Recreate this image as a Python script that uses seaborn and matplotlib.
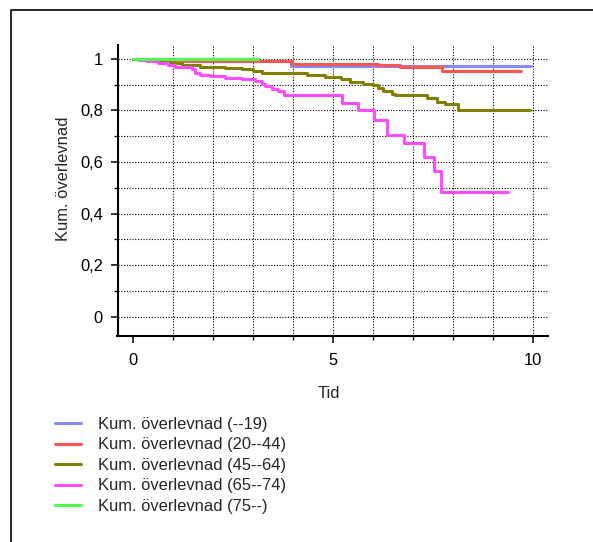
import matplotlib
matplotlib.use("Agg")
import matplotlib.pyplot as plt
from matplotlib.lines import Line2D
from matplotlib.ticker import FixedLocator, FixedFormatter
import numpy as np
import pandas as pd
import seaborn as sns

# Kaplan-Meier style step curves per age group
groups = ["Kum. överlevnad (--19)", "Kum. överlevnad (20--44)", "Kum. överlevnad (45--64)",
          "Kum. överlevnad (65--74)", "Kum. överlevnad (75--)"]

t_19 = [0, 0.45, 3.95, 9.95]
s_19 = [1, 0.99, 0.971, 0.971]

t_20_44 = [0, 0.3, 1.2, 3.97, 6.13, 6.68, 7.72, 9.7]
s_20_44 = [1, 0.996, 0.99, 0.982, 0.975, 0.967, 0.955, 0.955]

t_45_64 = [0, 0.35, 0.9, 1.22, 1.68, 2.3, 2.72, 3.0, 3.22, 4.35, 4.8, 5.2, 5.43, 5.76,
           6.0, 6.13, 6.26, 6.47, 6.56, 7.35, 7.6, 7.8, 8.14, 9.93]
s_45_64 = [1, 0.992, 0.985, 0.976, 0.969, 0.965, 0.960, 0.953, 0.947, 0.939, 0.930, 0.924,
           0.911, 0.904, 0.898, 0.889, 0.876, 0.865, 0.859, 0.850, 0.833, 0.824, 0.801, 0.801]

t_65_74 = [0, 0.15, 0.38, 0.63, 0.88, 1.06, 1.47, 1.56, 1.68, 1.93, 2.3, 2.72, 3.06, 3.22,
           3.31, 3.47, 3.63, 3.77, 5.22, 5.64, 6.02, 6.35, 6.78, 7.27, 7.54, 7.70, 9.39]
s_65_74 = [1, 0.995, 0.99, 0.985, 0.976, 0.969, 0.960, 0.947, 0.937, 0.933, 0.926, 0.921,
           0.915, 0.902, 0.895, 0.885, 0.875, 0.859, 0.828, 0.80, 0.763, 0.705, 0.673, 0.621,
           0.565, 0.483, 0.483]

t_75 = [0, 3.12]
s_75 = [1, 1]

colors = ["#8888ff", "#ff5555", "#808000", "#ff4dff", "#4dff4d"]

x_ticks = [0, 5, 10]
x_tick_labels = ["0", "5", "10"]
y_ticks = [0, 0.2, 0.4, 0.6, 0.8, 1.0]
y_tick_labels = ["0", "0,2", "0,4", "0,6", "0,8", "1"]

frames = []
for name, t, s in zip(groups, [t_19, t_20_44, t_45_64, t_65_74, t_75],
                      [s_19, s_20_44, s_45_64, s_65_74, s_75]):
    frames.append(pd.DataFrame({"Tid": t, "S": s, "grupp": name}))
df = pd.concat(frames, ignore_index=True)

FS = 11.9

sns.set_style("ticks")
plt.rcParams["font.family"] = ["Liberation Sans", "DejaVu Sans"]
plt.rcParams["font.size"] = FS

W, H = 593, 542
fig = plt.figure(figsize=(W / 100, H / 100), dpi=100)
ax = fig.add_axes([117.5 / W, 1 - 335.5 / H, (548 - 117.5) / W, (335.5 - 45) / H])

sns.lineplot(data=df, x="Tid", y="S", hue="grupp", hue_order=groups, palette=colors,
             estimator=None, drawstyle="steps-post", linewidth=2.2, ax=ax, legend=False,
             zorder=3)

ax.set_xlim(-0.38, 10.38)
ax.set_ylim(-0.073, 1.054)

ax.xaxis.set_major_locator(FixedLocator(x_ticks))
ax.xaxis.set_major_formatter(FixedFormatter(x_tick_labels))
ax.xaxis.set_minor_locator(FixedLocator(np.arange(0, 11, 1)))
ax.yaxis.set_major_locator(FixedLocator(y_ticks))
ax.yaxis.set_major_formatter(FixedFormatter(y_tick_labels))
ax.yaxis.set_minor_locator(FixedLocator(np.arange(0.1, 1.05, 0.2)))

grid_kw = dict(color="black", linestyle=(0, (1, 1.5)), linewidth=0.8)
for xv in np.arange(1, 11, 1):
    ax.axvline(xv, zorder=1, **grid_kw)
for yv in np.arange(0, 1.05, 0.1):
    ax.axhline(yv, zorder=1, **grid_kw)

ax.tick_params(axis="both", which="major", length=5, width=1.1, labelsize=FS,
               colors="black")
ax.tick_params(axis="x", which="major", pad=7.5)
ax.tick_params(axis="y", which="major", pad=5.5)
ax.tick_params(axis="both", which="minor", length=2.8, width=1.0, colors="black")

for side in ["top", "right"]:
    ax.spines[side].set_visible(False)
for side in ["left", "bottom"]:
    ax.spines[side].set_linewidth(1.5)
    ax.spines[side].set_color("black")

ax.set_xlabel("Tid", fontsize=FS)
ax.set_ylabel("Kum. överlevnad", fontsize=FS)
ax.xaxis.set_label_coords(0.49, -0.174)
ax.yaxis.set_label_coords(-0.108, 0.539)

handles = [Line2D([0], [0], color=c, lw=2.2) for c in colors]
fig.legend(handles, groups, loc="upper left", bbox_to_anchor=(55 / W, 1 - 417 / H),
           frameon=False, fontsize=FS, borderpad=0, borderaxespad=0, handlelength=1.6,
           handletextpad=1.0, labelspacing=0.33)

# outer frame line (left and top edges)
fig.add_artist(Line2D([11 / W, 11 / W, 1.01], [-0.01, 1 - 10 / H, 1 - 10 / H],
                      transform=fig.transFigure, color="black", lw=1.2))

fig.savefig("out.png", dpi=100)
